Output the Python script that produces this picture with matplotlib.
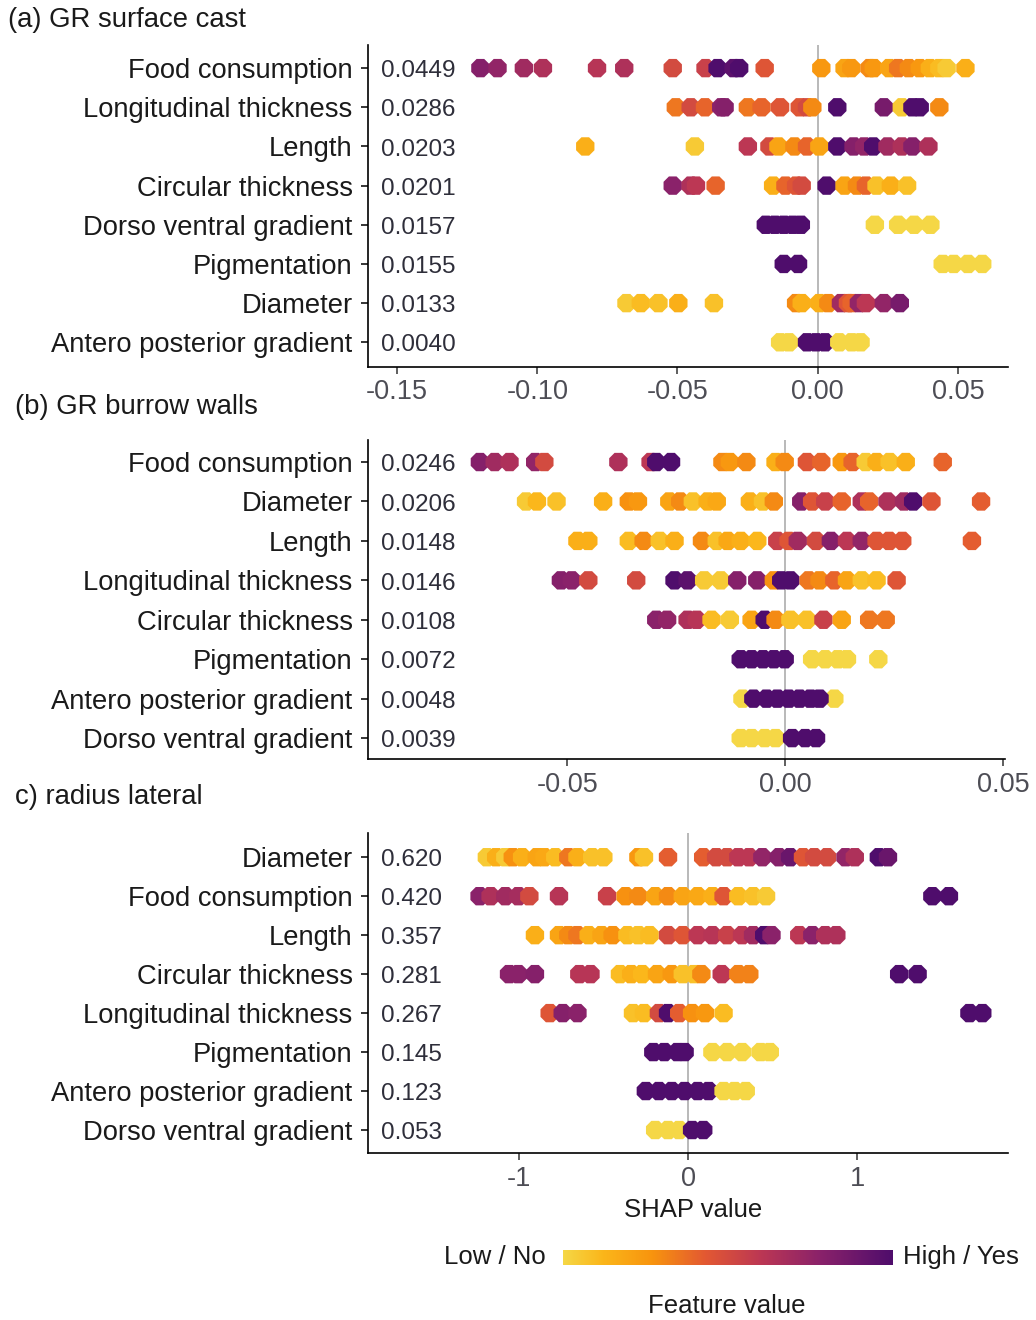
import numpy as np
import matplotlib
matplotlib.use("Agg")
import matplotlib.pyplot as plt
from matplotlib.colors import LinearSegmentedColormap

plt.rcParams['font.family'] = ['Liberation Sans', 'DejaVu Sans']
plt.rcParams['axes.unicode_minus'] = False

# ---------------- data ----------------
# (a) GR surface cast
a_features = ["Food consumption", "Longitudinal thickness", "Length", "Circular thickness",
              "Dorso ventral gradient", "Pigmentation", "Diameter", "Antero posterior gradient"]
a_importance = ["0.0449", "0.0286", "0.0203", "0.0201", "0.0157", "0.0155", "0.0133", "0.0040"]
a_shap = [
    [-0.1203, -0.1142, -0.1048, -0.098, -0.0787, -0.069, -0.0517, -0.040, -0.0357, -0.030, -0.028, -0.0189,
     0.0013, 0.0096, 0.012, 0.0185, 0.020, 0.0255, 0.0287, 0.0325, 0.0364, 0.040, 0.0434, 0.046, 0.0527],
    [-0.0506, -0.0453, -0.0402, -0.0344, -0.0332, -0.0249, -0.020, -0.0134, -0.0064, -0.0038, -0.0019,
     0.007, 0.0236, 0.030, 0.0338, 0.0364, 0.0434],
    [-0.0829, -0.0438, -0.0249, -0.0172, -0.014, -0.0083, -0.0038, 0.0006, 0.007, 0.0128, 0.0166, 0.0198,
     0.0249, 0.030, 0.0338, 0.0395],
    [-0.0517, -0.0453, -0.0434, -0.0364, -0.0159, -0.0115, -0.0077, -0.0057, 0.0032, 0.0096, 0.014, 0.0172,
     0.021, 0.0261, 0.0319],
    [-0.0185, -0.0153, -0.0121, -0.0089, -0.006, 0.0204, 0.0287, 0.0344, 0.0402],
    [-0.0121, -0.007, 0.0446, 0.0485, 0.0536, 0.0587],
    [-0.0682, -0.0631, -0.0568, -0.0497, -0.037, -0.0077, -0.0057, 0.0006, 0.0038, 0.0083, 0.0108, 0.0121,
     0.0147, 0.0172, 0.0236, 0.0293],
    [-0.0134, -0.0102, -0.0038, -0.0006, 0.0026, 0.0077, 0.0121, 0.0153],
]
a_value = [
    [0.8, 0.75, 0.7, 0.65, 0.62, 0.65, 0.5, 0.55, 1.0, 0.95, 1.0, 0.45,
     0.25, 0.2, 0.25, 0.3, 0.25, 0.2, 0.35, 0.3, 0.25, 0.15, 0.1, 0.05, 0.15],
    [0.35, 0.5, 0.4, 0.78, 0.8, 0.35, 0.4, 0.45, 0.45, 0.5, 0.3, 1.0, 0.85, 0.05, 1.0, 1.0, 0.3],
    [0.15, 0.05, 0.6, 0.5, 0.2, 0.3, 0.4, 0.2, 1.0, 0.8, 0.75, 1.0, 0.7, 0.65, 0.8, 0.65],
    [0.78, 0.65, 0.6, 0.4, 0.15, 0.4, 0.45, 0.5, 1.0, 0.2, 0.3, 0.4, 0.08, 0.15, 0.08],
    [1.0, 1.0, 1.0, 1.0, 1.0, 0.0, 0.0, 0.0, 0.0],
    [1.0, 1.0, 0.0, 0.0, 0.0, 0.0],
    [0.05, 0.1, 0.08, 0.15, 0.08, 0.3, 0.15, 0.15, 0.3, 0.7, 0.45, 0.4, 0.75, 0.6, 0.75, 0.85],
    [0.0, 0.0, 1.0, 1.0, 1.0, 0.0, 0.0, 0.0],
]

# (b) GR burrow walls
b_features = ["Food consumption", "Diameter", "Length", "Longitudinal thickness", "Circular thickness",
              "Pigmentation", "Antero posterior gradient", "Dorso ventral gradient"]
b_importance = ["0.0246", "0.0206", "0.0148", "0.0146", "0.0108", "0.0072", "0.0048", "0.0039"]
b_shap = [
    [-0.0701, -0.0667, -0.0633, -0.0574, -0.0553, -0.0383, -0.0309, -0.0296, -0.0262, -0.0144, -0.0127,
     -0.0089, -0.0022, -0.0001, 0.005, 0.0083, 0.013, 0.0155, 0.0185, 0.021, 0.024, 0.0277, 0.0362],
    [-0.0595, -0.057, -0.0525, -0.0418, -0.0359, -0.0338, -0.0266, -0.0241, -0.0212, -0.0178, -0.0157,
     -0.0081, -0.0051, -0.0026, 0.0037, 0.0062, 0.0092, 0.013, 0.0176, 0.0193, 0.0235, 0.0273, 0.0294,
     0.0336, 0.045],
    [-0.0477, -0.0452, -0.0359, -0.0325, -0.0288, -0.0254, -0.0191, -0.0157, -0.0132, -0.0102, -0.0064,
     -0.0018, 0.0008, 0.0029, 0.0071, 0.0105, 0.0142, 0.0176, 0.021, 0.0239, 0.0269, 0.0429],
    [-0.0515, -0.049, -0.0452, -0.0342, -0.0254, -0.0224, -0.0186, -0.0148, -0.011, -0.0064, -0.0026,
     -0.0009, 0.0012, 0.0054, 0.0079, 0.0113, 0.0142, 0.0176, 0.021, 0.0256],
    [-0.0296, -0.0271, -0.0224, -0.0203, -0.0169, -0.0127, -0.0077, -0.0047, -0.0022, 0.0012, 0.005,
     0.0088, 0.013, 0.0193, 0.0231],
    [-0.0102, -0.0077, -0.0051, -0.0026, -0.0001, 0.0062, 0.0092, 0.0121, 0.0142, 0.0214],
    [-0.0098, 0.0113, -0.0073, -0.0043, -0.0018, 0.0008, 0.0033, 0.0058, 0.0079],
    [-0.0102, -0.0077, -0.0047, -0.0022, 0.0016, 0.0046, 0.0071],
]
b_value = [
    [0.8, 0.7, 0.65, 0.75, 0.5, 0.65, 0.6, 1.0, 1.0, 0.3, 0.25, 0.3, 0.15, 0.3, 0.45, 0.4, 0.25, 0.4,
     0.05, 0.15, 0.08, 0.15, 0.4],
    [0.05, 0.12, 0.08, 0.15, 0.28, 0.25, 0.2, 0.3, 0.08, 0.15, 0.18, 0.15, 0.08, 0.3, 0.8, 0.45, 0.55,
     0.4, 0.65, 0.4, 0.65, 0.7, 1.0, 0.45, 0.42],
    [0.15, 0.15, 0.1, 0.3, 0.08, 0.15, 0.3, 0.08, 0.18, 0.15, 0.12, 0.55, 0.45, 0.7, 0.5, 0.8, 0.6, 0.75,
     0.45, 0.45, 0.45, 0.42],
    [0.8, 0.78, 0.5, 0.5, 1.0, 0.95, 0.05, 0.05, 0.8, 0.8, 0.28, 1.0, 1.0, 0.35, 0.3, 0.4, 0.2, 0.08,
     0.1, 0.45],
    [0.78, 0.75, 0.65, 0.62, 0.1, 0.05, 0.2, 1.0, 0.3, 0.08, 0.08, 0.55, 0.2, 0.35, 0.35],
    [1.0, 1.0, 1.0, 1.0, 1.0, 0.0, 0.0, 0.0, 0.0, 0.0],
    [0.0, 0.0, 1.0, 1.0, 1.0, 1.0, 1.0, 1.0, 1.0],
    [0.0, 0.0, 0.0, 0.0, 1.0, 1.0, 1.0],
]

# c) radius lateral
c_features = ["Diameter", "Food consumption", "Length", "Circular thickness", "Longitudinal thickness",
              "Pigmentation", "Antero posterior gradient", "Dorso ventral gradient"]
c_importance = ["0.620", "0.420", "0.357", "0.281", "0.267", "0.145", "0.123", "0.053"]
c_shap = [
    [-1.188, -1.133, -1.079, -1.035, -0.980, -0.893, -0.849, -0.784, -0.707, -0.653, -0.566, -0.5, -0.293,
     -0.260, -0.118, 0.0895, 0.166, 0.231, 0.297, 0.362, 0.439, 0.537, 0.603, 0.679, 0.745, 0.821, 0.93,
     0.985, 1.127, 1.181],
    [-1.231, -1.166, -1.079, -1.002, -0.937, -0.762, -0.478, -0.369, -0.293, -0.194, -0.118, -0.031, 0.057,
     0.144, 0.210, 0.297, 0.384, 0.461, 1.443, 1.541],
    [-0.904, -0.762, -0.707, -0.653, -0.587, -0.511, -0.445, -0.358, -0.293, -0.227, -0.118, -0.031, 0.057,
     0.144, 0.231, 0.319, 0.384, 0.450, 0.493, 0.657, 0.734, 0.810, 0.876],
    [-1.057, -1.002, -0.904, -0.642, -0.576, -0.402, -0.336, -0.271, -0.183, -0.096, -0.031, 0.035, 0.079,
     0.199, 0.297, 0.362, 1.247, 1.356],
    [-0.817, -0.740, -0.653, -0.325, -0.260, -0.172, -0.118, -0.052, 0.024, 0.100, 0.210, 1.662, 1.738],
    [-0.205, -0.140, -0.063, -0.020, 0.144, 0.231, 0.319, 0.428, 0.483],
    [-0.249, -0.172, -0.096, -0.020, 0.057, 0.122, 0.210, 0.275, 0.341],
    [-0.194, -0.118, -0.052, 0.024, 0.090],
]
c_value = [
    [0.05, 0.15, 0.05, 0.28, 0.15, 0.2, 0.18, 0.1, 0.35, 0.15, 0.08, 0.08, 0.25, 0.08, 0.42, 0.42, 0.5,
     0.5, 0.6, 0.6, 0.75, 0.8, 0.9, 0.45, 0.5, 0.5, 0.75, 0.65, 1.0, 0.9],
    [0.78, 0.65, 0.7, 0.68, 0.5, 0.62, 0.55, 0.28, 0.3, 0.2, 0.3, 0.2, 0.18, 0.15, 0.45, 0.1, 0.08, 0.05,
     1.0, 1.0],
    [0.15, 0.2, 0.3, 0.35, 0.15, 0.2, 0.28, 0.1, 0.08, 0.1, 0.5, 0.45, 0.6, 0.62, 0.55, 0.6, 0.7, 1.0,
     0.78, 0.6, 0.78, 0.65, 0.65],
    [0.78, 0.78, 0.8, 0.62, 0.62, 0.1, 0.15, 0.12, 0.2, 0.25, 0.08, 0.08, 0.3, 0.6, 0.32, 0.32, 1.0, 1.0],
    [0.45, 0.8, 0.78, 0.08, 0.1, 0.5, 1.0, 0.42, 0.28, 0.25, 0.1, 1.0, 1.0],
    [1.0, 1.0, 1.0, 1.0, 0.0, 0.0, 0.0, 0.0, 0.0],
    [1.0, 1.0, 1.0, 1.0, 1.0, 1.0, 0.0, 0.0, 0.0],
    [0.0, 0.0, 0.0, 1.0, 1.0],
]

# ---------------- style ----------------
cmap = LinearSegmentedColormap.from_list(
    "shap", [(0.0, "#f5d746"), (0.12, "#fbb61a"), (0.27, "#f8940e"), (0.43, "#e35932"),
             (0.6, "#bc3754"), (0.78, "#8a226a"), (1.0, "#4f0d6c")])

fig = plt.figure(figsize=(10.36, 13.2), dpi=100)


def draw(rect, feats, imp, shap, vals, xlim, ylim, xticks, xlabels):
    ax = fig.add_axes(rect)
    n = len(feats)
    ys = np.arange(n, 0, -1)
    ax.axvline(0, color="#b3b3b3", lw=1.3, zorder=1)
    for y, xs, vs in zip(ys, shap, vals):
        ax.scatter(xs, np.full(len(xs), y), c=vs, cmap=cmap, vmin=0, vmax=1,
                   s=205, marker="8", linewidths=0, zorder=2)
    for y, t in zip(ys, imp):
        ax.text(0.02, y - 0.08, t, transform=ax.get_yaxis_transform(),
                ha="left", va="center", fontsize=17.5, color="#2e2e3a")
    ax.set_xlim(xlim)
    ax.set_ylim(ylim)
    ax.set_yticks(ys)
    ax.set_yticklabels(feats, fontsize=19.7, color="#1a1a1a")
    ax.set_xticks(xticks)
    ax.set_xticklabels(xlabels, fontsize=19.5, color="#4d4d55")
    for s in ["top", "right"]:
        ax.spines[s].set_visible(False)
    for s in ["left", "bottom"]:
        ax.spines[s].set_linewidth(1.2)
    ax.tick_params(axis="y", length=5, width=1.1, pad=6)
    ax.tick_params(axis="x", length=5, width=1.1, pad=4, color="#333333")
    return ax


draw([0.3552, 0.722, 0.6178, 0.2439], a_features, a_importance, a_shap, a_value,
     (-0.1604, 0.0679), (0.37, 8.59), [-0.15, -0.10, -0.05, 0.00, 0.05],
     ["-0.15", "-0.10", "-0.05", "0.00", "0.05"])
draw([0.3552, 0.425, 0.6149, 0.2417], b_features, b_importance, b_shap, b_value,
     (-0.0958, 0.0505), (0.47, 8.56), [-0.05, 0.00, 0.05], ["-0.05", "0.00", "0.05"])
draw([0.3552, 0.1265, 0.6178, 0.2424], c_features, c_importance, c_shap, c_value,
     (-1.89, 1.89), (0.41, 8.62), [-1, 0, 1], ["-1", "0", "1"])

fig.text(8 / 1036, 1 - 20 / 1320, "(a) GR surface cast", fontsize=19.8, va="center", ha="left", color="#1a1a1a")
fig.text(15 / 1036, 1 - 407 / 1320, "(b) GR burrow walls", fontsize=19.8, va="center", ha="left", color="#1a1a1a")
fig.text(15 / 1036, 1 - 797 / 1320, "c) radius lateral", fontsize=19.8, va="center", ha="left", color="#1a1a1a")
fig.text(693 / 1036, 1 - 1210 / 1320, "SHAP value", fontsize=18.5, va="center", ha="center", color="#1a1a1a")

# legend bar
cax = fig.add_axes([563 / 1036, 1 - 1265 / 1320, 330 / 1036, 15 / 1320])
cax.imshow(np.linspace(0, 1, 256)[None, :], aspect="auto", cmap=cmap)
cax.axis("off")
fig.text(546 / 1036, 1 - 1257 / 1320, "Low / No", fontsize=18.5, va="center", ha="right", color="#1a1a1a")
fig.text(903 / 1036, 1 - 1257 / 1320, "High / Yes", fontsize=18.5, va="center", ha="left", color="#1a1a1a")
fig.text(727 / 1036, 1 - 1306 / 1320, "Feature value", fontsize=18.5, va="center", ha="center", color="#1a1a1a")

fig.savefig("out.png", dpi=100)
